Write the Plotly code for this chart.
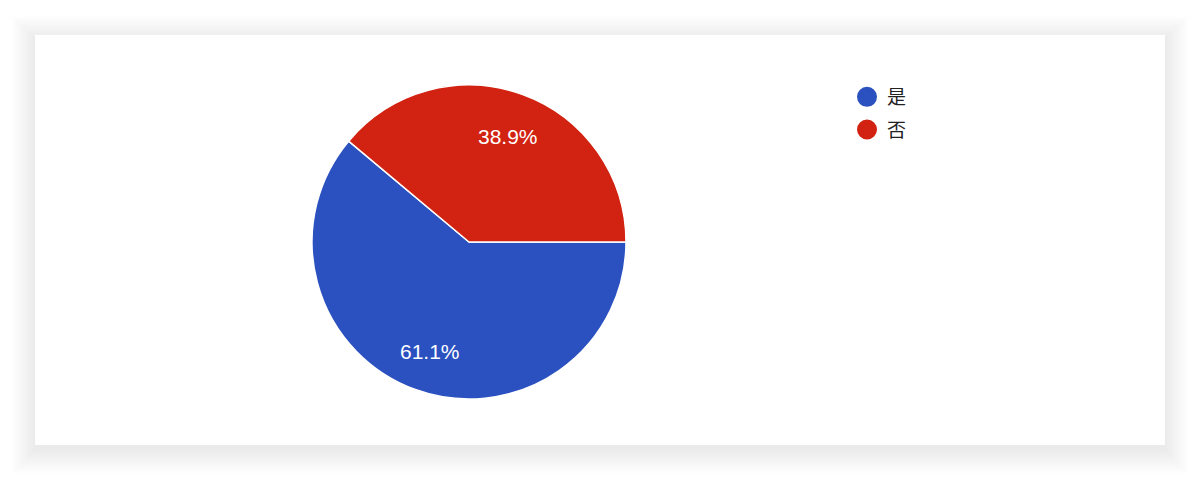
import math
import plotly.graph_objects as go

labels = ["是", "否"]
values = [61.1, 38.9]
colors = ["#2a51bf", "#d22211"]

# the page body adds 8px on the left and top, so layout is shifted back
OFF = 8
W, H = 1200, 480
cx, cy, r = 469 - OFF, 242 - OFF, 157

fig = go.Figure()

fig.add_trace(go.Pie(
    labels=labels,
    values=values,
    marker=dict(colors=colors, line=dict(color="white", width=1.5)),
    sort=False,
    direction="clockwise",
    rotation=90,
    textinfo="none",
    domain=dict(x=[(cx - r) / W, (cx + r) / W], y=[1 - (cy + r) / H, 1 - (cy - r) / H]),
    showlegend=False,
    hoverinfo="label+percent",
))

# percentage labels on the slice bisectors
annotations = []
total = sum(values)
start = 0.0
for v in values:
    mid = start - v / total * 180.0
    ang = math.radians(mid)
    lx = cx + 0.73 * r * math.cos(ang)
    ly = cy - 0.73 * r * math.sin(ang) + 2
    annotations.append(dict(
        x=lx / W, y=1 - ly / H, xref="paper", yref="paper",
        xanchor="center", yanchor="middle",
        text=f"{v / total * 100:.1f}%", showarrow=False,
        font=dict(family="Liberation Sans, Arial", size=21, color="white"),
    ))
    start -= v / total * 360.0

# legend entries with round markers
for name, col in zip(labels, colors):
    fig.add_trace(go.Scatter(
        x=[None], y=[None], mode="markers", name=name, legendgroup=name,
        marker=dict(color=col, size=16, symbol="circle", line=dict(color=col, width=4)),
    ))

# card with soft shadow
shapes = []
for i in range(20, 0, -1):
    shapes.append(dict(
        type="rect", xref="paper", yref="paper", layer="below",
        x0=(35 - OFF - i * 1.2) / W, x1=(1165 - OFF + i * 1.2) / W,
        y0=1 - (445 - OFF + i * 1.2 + 5) / H, y1=1 - (35 - OFF - i * 1.2 + 4) / H,
        fillcolor="rgba(0,0,0,0.004)", line=dict(width=0),
    ))
shapes.append(dict(
    type="rect", xref="paper", yref="paper", layer="below",
    x0=(35 - OFF) / W, x1=(1165 - OFF) / W, y0=1 - (445 - OFF) / H, y1=1 - (35 - OFF) / H,
    fillcolor="white", line=dict(width=0),
))

fig.update_layout(
    width=W, height=H,
    margin=dict(l=0, r=0, t=0, b=0),
    paper_bgcolor="white",
    plot_bgcolor="rgba(0,0,0,0)",
    shapes=shapes,
    annotations=annotations,
    xaxis=dict(visible=False),
    yaxis=dict(visible=False),
    legend=dict(
        x=(849 - OFF - 2) / W, y=1 - (78 - OFF) / H, xanchor="left", yanchor="top",
        font=dict(family="Noto Sans CJK SC", size=19, color="#222222"),
        itemsizing="trace", tracegroupgap=5, traceorder="grouped",
        bgcolor="rgba(0,0,0,0)",
    ),
)

fig.write_html("out.html")
